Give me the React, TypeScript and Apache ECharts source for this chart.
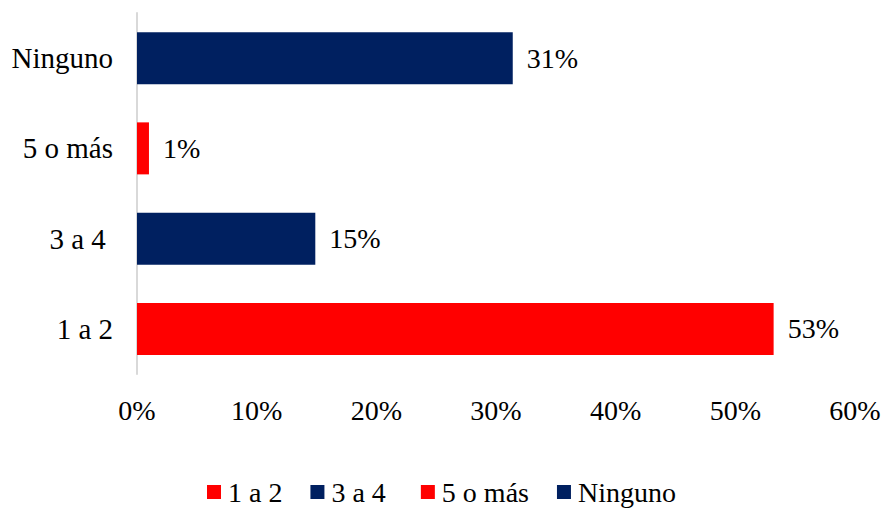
import React, { useEffect, useRef } from "react";
import * as echarts from "echarts";

const categories = ["1 a 2", "3 a 4 ", "5 o más", "Ninguno"];
const seriesValues = [53.2, 14.9, 1.0, 31.4];
const seriesColors = ["#FF0000", "#002060", "#FF0000", "#002060"];
const xTicks = { min: 0, max: 60, interval: 10 };

const FONT = "Liberation Serif";

export default function App() {
  const ref = useRef<HTMLDivElement>(null);
  useEffect(() => {
    document.body.style.margin = "0";
    const chart = echarts.init(ref.current!, null, { renderer: "svg" });
    const series = categories.map((name, i) => ({
      name,
      type: "bar",
      stack: "all",
      barWidth: 52,
      itemStyle: { color: seriesColors[i] },
      label: {
        show: true,
        position: "right",
        distance: 14,
        formatter: (p: any) => Math.round(p.value) + "%",
        color: "#000",
        fontFamily: FONT,
        fontSize: 28,
      },
      data: categories.map((_, j) => (j === i ? seriesValues[i] : "-")),
    }));
    chart.setOption({
      animation: false,
      textStyle: { fontFamily: FONT },
      grid: { left: 137, right: 30, top: 13, bottom: 134, containLabel: false },
      legend: {
        data: categories,
        left: 202,
        top: 473,
        itemWidth: 14,
        itemHeight: 14,
        itemGap: 28,
        itemStyle: { borderWidth: 0 },
        icon: "rect",
        textStyle: { fontFamily: FONT, fontSize: 28, color: "#000", padding: [0, 0, 0, 2] },
      },
      xAxis: {
        type: "value",
        min: xTicks.min,
        max: xTicks.max,
        interval: xTicks.interval,
        axisLine: { show: false },
        axisTick: { show: false },
        splitLine: { show: false },
        axisLabel: {
          formatter: "{value}%",
          fontFamily: FONT,
          fontSize: 28,
          color: "#000",
          margin: 22,
        },
      },
      yAxis: {
        type: "category",
        data: categories,
        axisLine: { show: true, lineStyle: { color: "#D9D9D9", width: 2 } },
        axisTick: { show: false },
        axisLabel: {
          fontFamily: FONT,
          fontSize: 29,
          color: "#000",
          margin: 24,
        },
      },
      series,
    });
    return () => chart.dispose();
  }, []);
  return <div ref={ref} style={{ width: 885, height: 508 }} />;
}
